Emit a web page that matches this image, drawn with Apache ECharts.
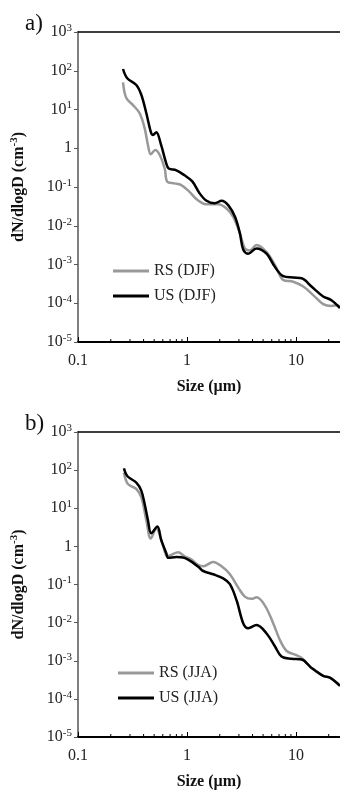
<!DOCTYPE html>
<html>
<head>
<meta charset="utf-8">
<script src="https://cdn.jsdelivr.net/npm/echarts@6/dist/echarts.min.js"></script>
<style>
html,body{margin:0;padding:0;background:#fff;}
#c{width:340px;height:791px;}
</style>
</head>
<body>
<div id="c"></div>
<script>
// ---- data ----
// Panel a) DJF
const sizeUsDJF = [0.259,0.283,0.343,0.381,0.424,0.465,0.488,0.523,0.58,0.645,0.68,0.8,0.95,1.12,1.3,1.5,1.8,2.08,2.39,2.76,3.06,3.29,3.65,4.35,5.38,6.41,7.65,9.45,11.3,13.9,17.8,21.2,25.4];
const valUsDJF  = [111,64,43,24,8,2.7,2.2,2.6,1.2,0.41,0.30,0.27,0.2,0.14,0.07,0.045,0.038,0.044,0.034,0.017,0.0064,0.0024,0.0019,0.0026,0.0019,0.00087,0.0005,0.00046,0.00044,0.00027,0.00015,0.00012,0.000075];
const sizeRsDJF = [0.259,0.277,0.32,0.368,0.409,0.439,0.465,0.512,0.563,0.625,0.66,0.77,0.88,1.05,1.25,1.5,1.94,2.31,2.66,3.06,3.4,3.78,4.35,5.38,6.41,7.65,9.45,11.7,14.4,17.8,21.2,24,25.4];
const valRsDJF  = [50,20,13,8,3.3,1.2,0.7,0.9,0.67,0.3,0.137,0.124,0.113,0.076,0.046,0.036,0.036,0.028,0.017,0.0064,0.0026,0.0023,0.0032,0.0021,0.00098,0.0004,0.00036,0.00027,0.000162,0.000095,0.000085,0.000089,0.00008];
// Panel b) JJA
const sizeUsJJA = [0.264,0.283,0.343,0.381,0.409,0.439,0.47,0.535,0.58,0.645,0.675,0.8,0.95,1.14,1.3,1.41,1.74,2.15,2.48,2.86,3.29,3.65,4.35,5.38,6.41,7.38,9.11,11.3,13.9,17.8,20.5,25.4];
const valUsJJA  = [111,70,47,29,13,4.8,2.2,3.3,1.48,0.67,0.5,0.53,0.5,0.37,0.275,0.226,0.186,0.145,0.102,0.038,0.0095,0.0071,0.0086,0.0052,0.0024,0.0013,0.00113,0.00108,0.00065,0.0004,0.00036,0.00022];
const sizeRsJJA = [0.264,0.287,0.343,0.381,0.424,0.465,0.523,0.6,0.66,0.72,0.83,0.95,1.1,1.26,1.41,1.74,2.08,2.48,2.96,3.4,3.92,4.35,5.2,6.2,7.13,8.22,9.8,11.3,13.9,17.8,20.5,25.4];
const valRsJJA  = [85,43,32,19.6,4.8,1.6,2.95,1.1,0.55,0.6,0.7,0.55,0.45,0.33,0.3,0.39,0.3,0.186,0.083,0.048,0.042,0.046,0.028,0.0095,0.0035,0.0018,0.00145,0.00118,0.00065,0.0004,0.00036,0.00022];
// axis ranges / ticks
const xMin = 0.1, xMax = 25.4;
const yMin = 1e-5, yMax = 1e3;
const xMinorTicks = [0.2,0.3,0.4,0.5,0.6,0.7,0.8,0.9,2,3,4,5,6,7,8,9,20];
const panelLabels = ['a)', 'b)'];
const seriesNames = [['RS (DJF)','US (DJF)'],['RS (JJA)','US (JJA)']];

// ---- chart ----
const FONT = 'Liberation Serif';
const pair = (xs, ys) => xs.map((x, i) => [x, ys[i]]);
const grids = [
  {left: 78, top: 32, width: 262, height: 310},
  {left: 78, top: 432, width: 262, height: 310}
];

function yFmt(v) {
  const e = Math.round(Math.log10(v));
  if (e === 0) return '{n|1}';
  return '{n|10}{s|' + e + '}';
}
function xFmt(v) {
  const e = Math.log10(v);
  if (Math.abs(e - Math.round(e)) > 1e-6 || v > 11) return '';
  if (Math.round(e) === -1) return '0.1';
  return String(Math.round(v));
}

const xAxes = [], yAxes = [], series = [], legends = [], titles = [];
grids.forEach((g, gi) => {
  xAxes.push({
    type: 'log', logBase: 10, gridIndex: gi, min: xMin, max: xMax, position: 'bottom',
    name: 'Size (\u00b5m)', nameLocation: 'middle', nameGap: 37,
    nameTextStyle: {fontFamily: FONT, fontSize: 16, fontWeight: 'bold', color: '#111'},
    axisLine: {show: true, lineStyle: {color: '#000', width: 2}},
    axisTick: {show: true, inside: true, length: 5, lineStyle: {color: '#000', width: 1}},
    axisLabel: {formatter: xFmt, fontFamily: FONT, fontSize: 16, color: '#222', margin: 11, showMaxLabel: false},
    splitLine: {show: false}
  });
  xAxes.push({
    type: 'log', logBase: 10, gridIndex: gi, min: xMin, max: xMax, position: 'top',
    axisLine: {show: true, lineStyle: {color: '#000', width: 1.5}},
    axisTick: {show: false}, axisLabel: {show: false}, splitLine: {show: false}
  });
  yAxes.push({
    type: 'log', logBase: 10, gridIndex: gi, min: yMin, max: yMax, interval: 1, splitNumber: 8,
    name: 'dN/dlogD (cm{s|-3})', nameLocation: 'middle', nameGap: 50,
    nameTextStyle: {fontFamily: FONT, fontSize: 16, fontWeight: 'bold', color: '#111',
      rich: {s: {fontFamily: FONT, fontSize: 11, fontWeight: 'bold', color: '#111', verticalAlign: 'top', padding: [0,0,8,0]}}},
    axisLine: {show: true, lineStyle: {color: '#555', width: 1.5}},
    axisTick: {show: true, inside: false, length: 4, lineStyle: {color: '#555', width: 1}},
    axisLabel: {formatter: yFmt, margin: 6,
      rich: {
        n: {fontFamily: FONT, fontSize: 16, color: '#222', lineHeight: 19},
        s: {fontFamily: FONT, fontSize: 11, color: '#222', lineHeight: 19, verticalAlign: 'top', padding: [0,0,9,0]}
      }},
    splitLine: {show: false}
  });
  titles.push({text: panelLabels[gi], left: 20, top: g.top - 25,
    textStyle: {fontFamily: FONT, fontSize: 23, fontWeight: 'normal', color: '#111'}});
});

const panelData = [
  [pair(sizeRsDJF, valRsDJF), pair(sizeUsDJF, valUsDJF)],
  [pair(sizeRsJJA, valRsJJA), pair(sizeUsJJA, valUsJJA)]
];
const colors = ['#999999', '#000000'];
panelData.forEach((pd, gi) => {
  pd.forEach((d, si) => {
    series.push({
      type: 'line', name: seriesNames[gi][si], data: d,
      xAxisIndex: gi * 2, yAxisIndex: gi, symbol: 'none', smooth: 0.35,
      lineStyle: {color: colors[si], width: 2.5}, itemStyle: {color: colors[si]},
      z: si === 1 ? 3 : 2
    });
  });
  series.push({
    type: 'custom', xAxisIndex: gi * 2, yAxisIndex: gi, silent: true, clip: false,
    data: xMinorTicks.map(x => [x, yMin]),
    renderItem: function (params, api) {
      const p = api.coord([api.value(0), api.value(1)]);
      return {type: 'line', shape: {x1: p[0], y1: p[1], x2: p[0], y2: p[1] - 3},
        style: {stroke: '#000', lineWidth: 1}};
    }
  });
  legends.push({
    data: seriesNames[gi], orient: 'vertical', left: gi === 0 ? 108 : 113, top: gi === 0 ? 258 : 660,
    icon: 'rect', itemWidth: 36, itemHeight: 3, itemGap: 9,
    textStyle: {fontFamily: FONT, fontSize: 16, color: '#222'},
    selectedMode: false
  });
});

const chart = echarts.init(document.getElementById('c'), null, {renderer: 'canvas'});
chart.setOption({
  animation: false,
  backgroundColor: '#fff',
  title: titles,
  grid: grids,
  xAxis: xAxes,
  yAxis: yAxes,
  legend: legends,
  series: series
});
</script>
</body>
</html>
